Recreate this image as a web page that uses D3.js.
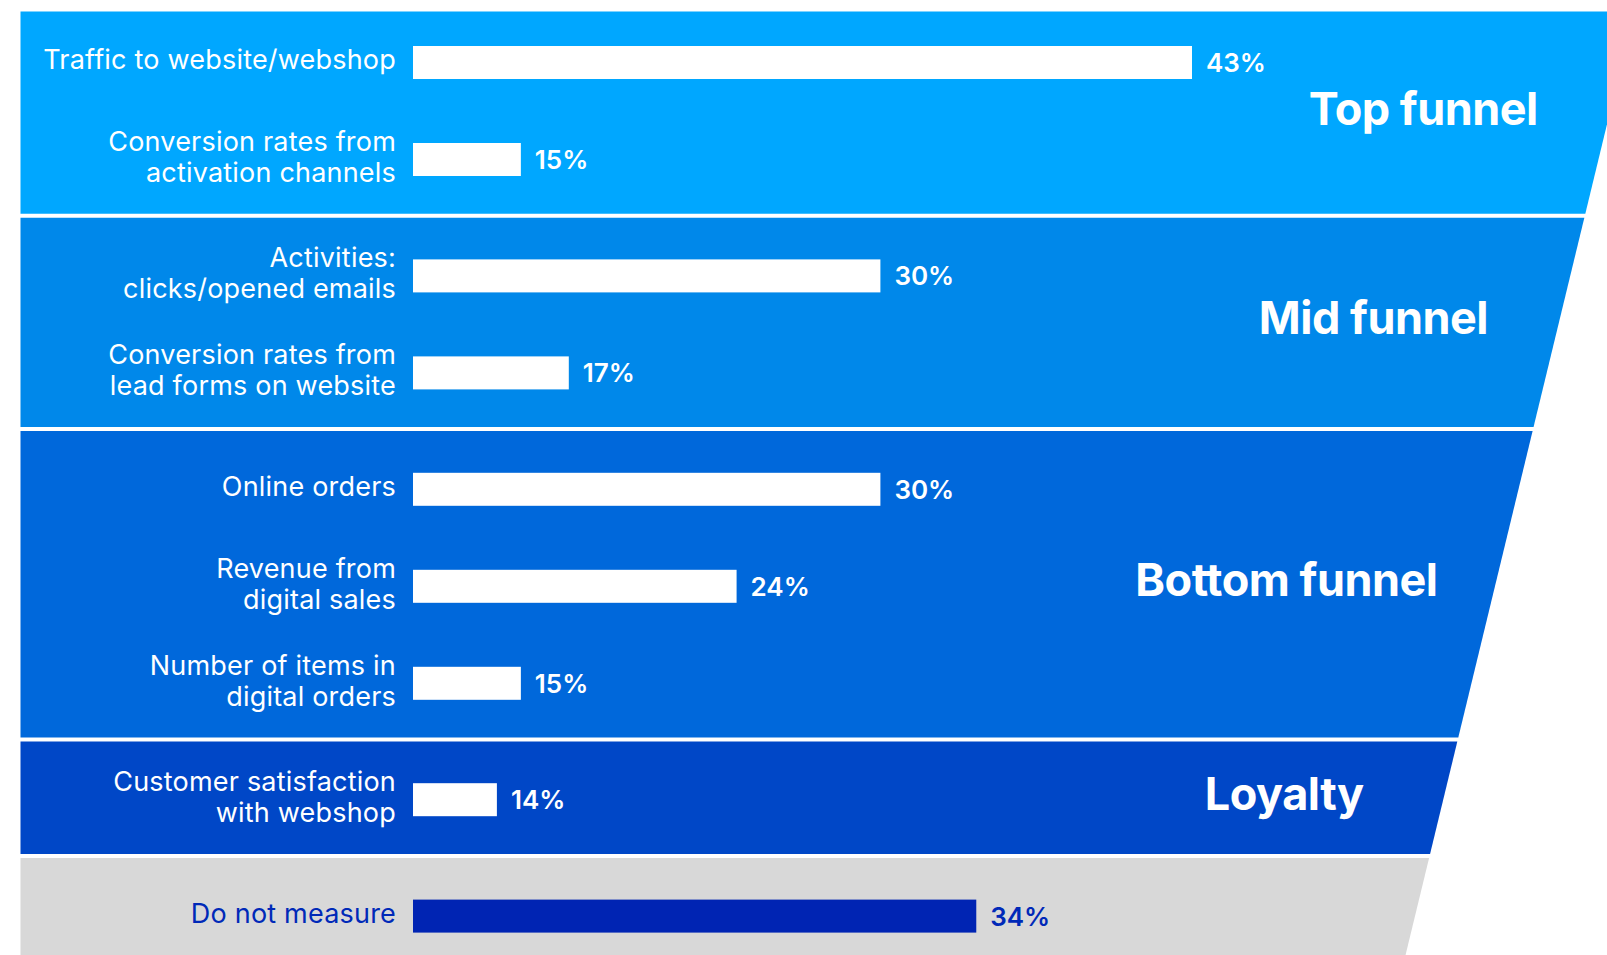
<!DOCTYPE html>
<html>
<head>
<meta charset="utf-8">
<script src="https://cdn.jsdelivr.net/npm/d3@7"></script>
<style>
  html, body { margin: 0; padding: 0; background: #ffffff; }
  svg { display: block; }
</style>
</head>
<body>
<svg id="chart" width="1607" height="955"></svg>
<script>
// ---- data ----
const sectionNames = ["Top funnel", "Mid funnel", "Bottom funnel", "Loyalty", ""];
const categories = [
  ["Traffic to website/webshop"],
  ["Conversion rates from", "activation channels"],
  ["Activities:", "clicks/opened emails"],
  ["Conversion rates from", "lead forms on website"],
  ["Online orders"],
  ["Revenue from", "digital sales"],
  ["Number of items in", "digital orders"],
  ["Customer satisfaction", "with webshop"],
  ["Do not measure"]
];
const values = [43, 15, 30, 17, 30, 24, 15, 14, 34];
const sectionOfRow = [0, 0, 1, 1, 2, 2, 2, 3, 4];

// ---- styles / layout ----
const panelColors = ["#00a7ff", "#0088ea", "#0068db", "#0047c7", "#d8d8d8"];
const barColors = ["#ffffff", "#ffffff", "#ffffff", "#ffffff", "#0024b3"];
const textColors = ["#ffffff", "#ffffff", "#ffffff", "#ffffff", "#0029b8"];
const titleInset = [72, 71, 58, 80, 0];

const W = 1607, H = 955;
const panelLeft = 20.5;
const labelRight = 396;
const barLeft = 413;
const barH = 33;
const sectionGap = 0.2;   // extra space between sections, in row units
const font = "Inter, 'Open Sans', sans-serif";

const svg = d3.select("#chart");

// slanted right edge of the funnel
const edgeX = y => 1585 - 0.2425 * (y - 215);

// row positions: one unit per row plus a gap between sections
const slots = values.map((d, i) => i + sectionOfRow[i] * sectionGap);
const y = d3.scaleLinear()
  .domain([0, d3.max(slots)])
  .range([62.5, 62.5 + 97 * d3.max(slots)]);

const x = d3.scaleLinear().domain([10.5, 43]).range([barLeft, barLeft + 779]);

// ---- section panels ----
const nSec = sectionNames.length;
const bounds = d3.range(nSec).map(s => {
  const rows = d3.range(values.length).filter(i => sectionOfRow[i] === s);
  return { first: rows[0], last: rows[rows.length - 1] };
});
const panels = bounds.map((b, s) => {
  const top = s === 0
    ? y(slots[b.first]) - 51
    : (y(slots[bounds[s - 1].last]) + y(slots[b.first])) / 2;
  const bottom = s === nSec - 1
    ? H + 10
    : (y(slots[b.last]) + y(slots[bounds[s + 1].first])) / 2 - 4;
  return { s, top, bottom };
});

svg.append("g").selectAll("path")
  .data(panels)
  .join("path")
  .attr("d", p => {
    const pts = [[panelLeft, p.top], [edgeX(p.top), p.top], [edgeX(p.bottom), p.bottom], [panelLeft, p.bottom]];
    return d3.line()(pts) + "Z";
  })
  .attr("fill", p => panelColors[p.s]);

// ---- section titles ----
svg.append("g").selectAll("text")
  .data(panels.filter(p => sectionNames[p.s]))
  .join("text")
  .attr("x", p => edgeX((p.top + p.bottom) / 2) - titleInset[p.s])
  .attr("y", p => (p.top + p.bottom) / 2 + 12)
  .attr("text-anchor", "end")
  .attr("font-family", font)
  .attr("font-weight", 700)
  .attr("font-size", 45)
  .attr("letter-spacing", -0.5)
  .attr("fill", "#ffffff")
  .text(p => sectionNames[p.s]);

// ---- rows ----
const rows = values.map((v, i) => ({ v, i, s: sectionOfRow[i], lines: categories[i], cy: y(slots[i]) }));

const rowG = svg.append("g").selectAll("g")
  .data(rows)
  .join("g");

rowG.append("rect")
  .attr("x", x.range()[0])
  .attr("y", d => d.cy - barH / 2)
  .attr("width", d => x(d.v) - x.range()[0])
  .attr("height", barH)
  .attr("fill", d => barColors[d.s]);

rowG.append("text")
  .attr("x", d => x(d.v) + 14)
  .attr("y", d => d.cy + 9.5)
  .attr("font-family", font)
  .attr("font-weight", 600)
  .attr("font-size", 26)
  .attr("fill", d => textColors[d.s])
  .text(d => d.v + "%");

rowG.append("text")
  .attr("text-anchor", "end")
  .attr("font-family", font)
  .attr("font-weight", 400)
  .attr("font-size", 27)
  .attr("letter-spacing", 0.2)
  .attr("fill", d => textColors[d.s])
  .each(function (d) {
    const t = d3.select(this);
    const base = d.lines.length === 1 ? d.cy + 6.5 : d.cy - 8.7;
    d.lines.forEach((line, k) => {
      t.append("tspan")
        .attr("x", labelRight)
        .attr("y", base + k * 31)
        .text(line);
    });
  });
</script>
</body>
</html>
